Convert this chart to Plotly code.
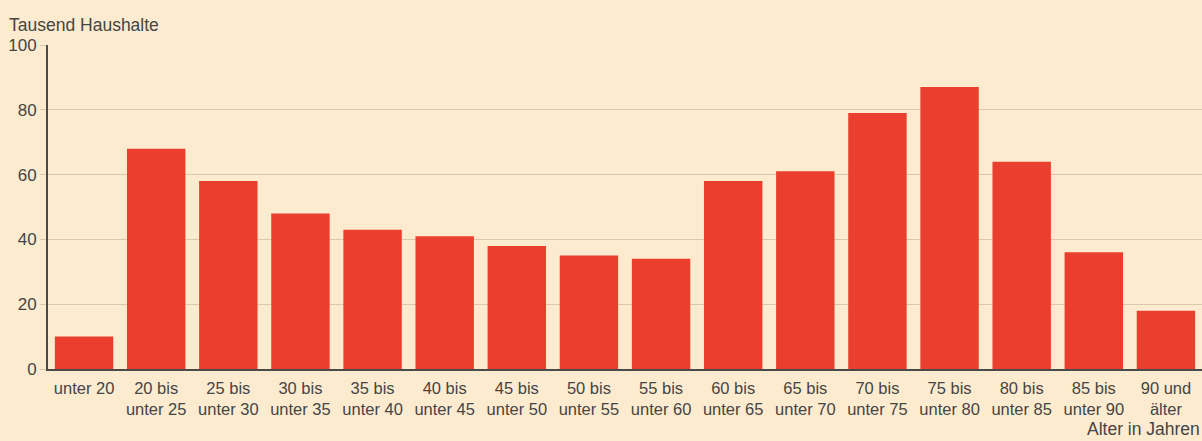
import plotly.graph_objects as go

categories = ["unter 20", "20 bis<br>unter 25", "25 bis<br>unter 30", "30 bis<br>unter 35",
              "35 bis<br>unter 40", "40 bis<br>unter 45", "45 bis<br>unter 50", "50 bis<br>unter 55",
              "55 bis<br>unter 60", "60 bis<br>unter 65", "65 bis<br>unter 70", "70 bis<br>unter 75",
              "75 bis<br>unter 80", "80 bis<br>unter 85", "85 bis<br>unter 90", "90 und<br>älter"]
values = [10, 68, 58, 48, 43, 41, 38, 35, 34, 58, 61, 79, 87, 64, 36, 18]
y_ticks = [0, 20, 40, 60, 80, 100]

bg = "#FDEBCF"
bar_color = "#EA3F2E"
text_color = "#454545"
grid_color = "#D8C8AC"

fig = go.Figure(go.Bar(x=categories, y=values, marker=dict(color=bar_color, line=dict(width=0))))

fig.update_layout(
    width=1202, height=441,
    paper_bgcolor=bg, plot_bgcolor=bg,
    margin=dict(l=48, r=0, t=45, b=72),
    bargap=0.19,
    showlegend=False,
    font=dict(family="Liberation Sans, Arial, sans-serif", size=16, color=text_color),
    xaxis=dict(showgrid=False, showline=True, linecolor="#4a4a4a", linewidth=2,
               ticks="", tickfont=dict(size=16.5, color=text_color), tickangle=0,
               ticklabelstandoff=3),
    yaxis=dict(range=[0, 100], tickvals=y_ticks, showgrid=True, gridcolor=grid_color, gridwidth=1,
               showline=True, linecolor="#4a4a4a", linewidth=2, ticks="outside", ticklen=6,
               tickcolor=grid_color, tickfont=dict(size=17, color=text_color), zeroline=False),
    annotations=[
        dict(text="Tausend Haushalte", x=0, y=1, xref="paper", yref="paper", xanchor="left", yanchor="bottom",
             showarrow=False, xshift=-41, yshift=8, font=dict(size=17.5, color=text_color)),
        dict(text="Alter in Jahren", x=1, y=0, xref="paper", yref="paper", xanchor="right", yanchor="bottom",
             showarrow=False, yshift=-72, xshift=0, font=dict(size=17.5, color=text_color)),
    ],
)

fig.write_html("out.html")
